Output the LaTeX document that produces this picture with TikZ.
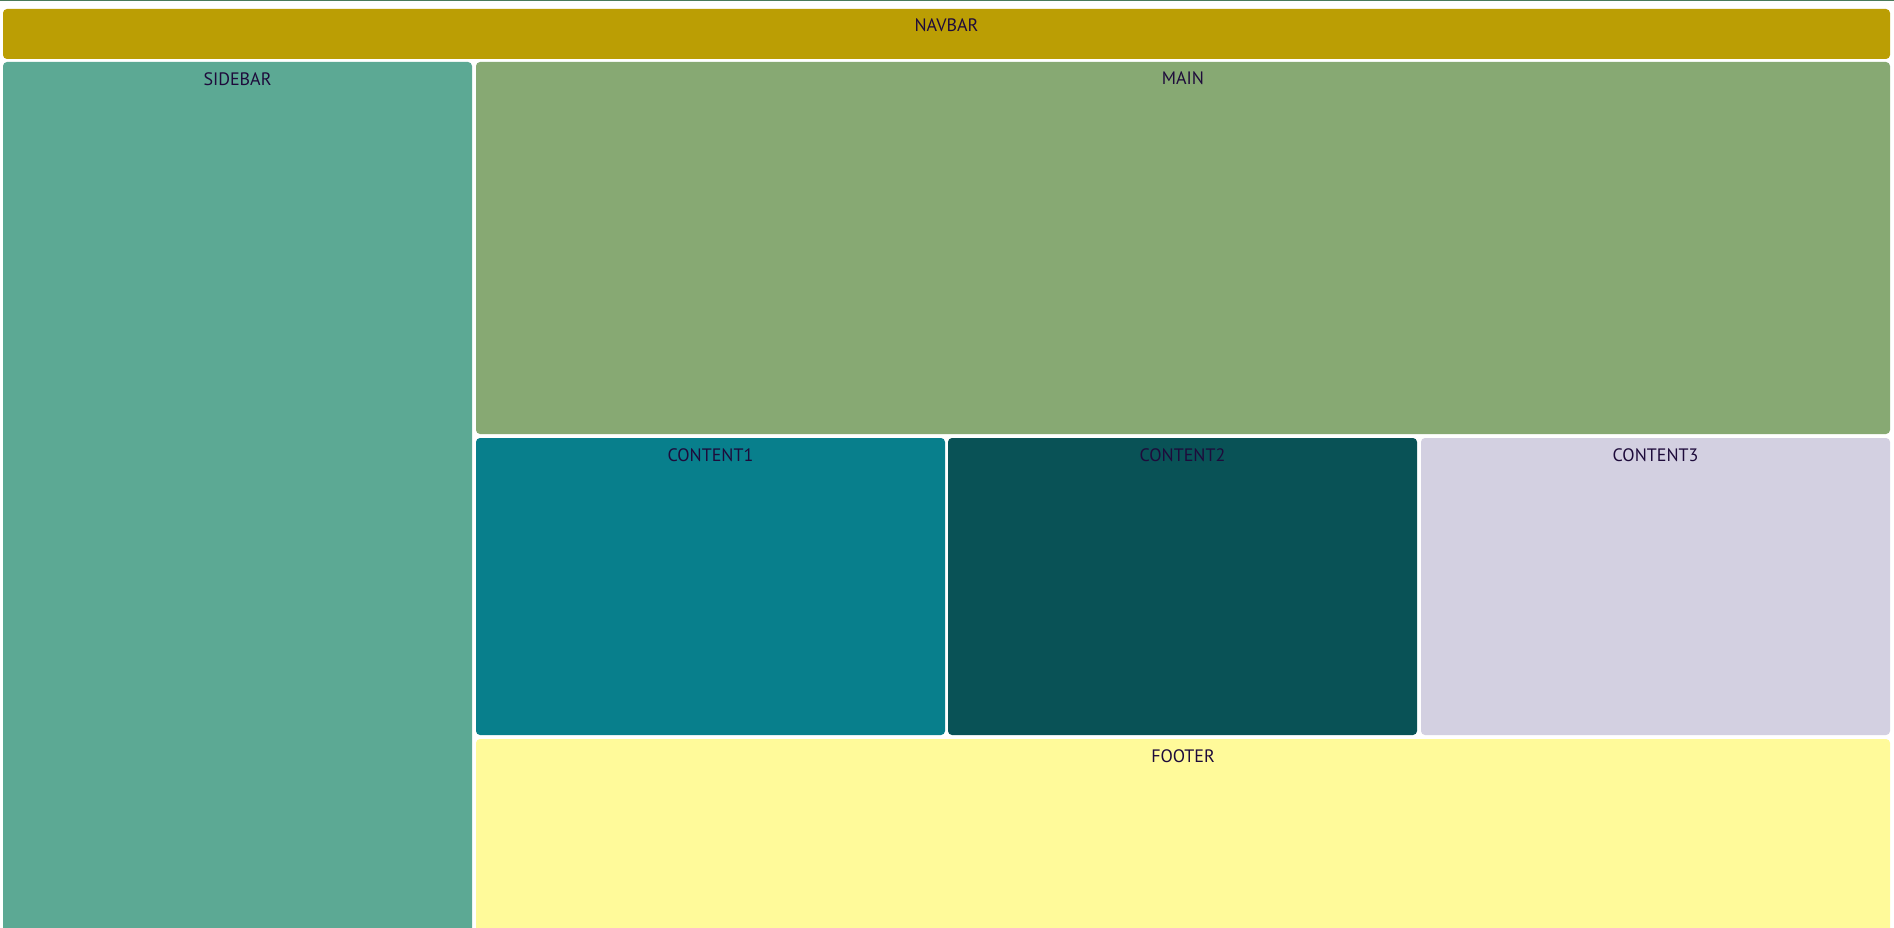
\documentclass[tikz,border=0pt]{standalone}
\usepackage{fontspec}
\setmainfont{PT Sans}
\definecolor{navc}{HTML}{BB9E04}
\definecolor{sidec}{HTML}{5CA994}
\definecolor{mainc}{HTML}{87A973}
\definecolor{conac}{HTML}{087F8C}
\definecolor{conbc}{HTML}{095256}
\definecolor{concc}{HTML}{D3D0E1}
\definecolor{footc}{HTML}{FFFA9A}
\definecolor{txtc}{HTML}{1E0B3B}
\definecolor{topline}{HTML}{4A7A5A}
\begin{document}
\begin{tikzpicture}[x=1pt,y=-1pt,
  boxs/.style={draw=none, rounded corners=4pt, anchor=north west, inner sep=0pt, outer sep=0pt},
  lbl/.style={anchor=north, inner sep=0pt, text=txtc, font=\fontsize{18}{20}\selectfont}]
\useasboundingbox (0,0) rectangle (1894,928);
\clip (0,0) rectangle (1894,928);
\fill[white] (0,0) rectangle (1894,928);
\fill[topline] (0,0) rectangle (1894,1.2);
\node[boxs, fill=navc, minimum width=1887pt, minimum height=50pt] (navbar) at (3,9) {};
\node[boxs, fill=sidec, minimum width=469pt, minimum height=880pt] (sidebar) at (3,62) {};
\node[boxs, fill=mainc, minimum width=1414pt, minimum height=372pt] (main) at (476,62) {};
\node[boxs, fill=conac, minimum width=469pt, minimum height=297pt] (content1) at (476,438) {};
\node[boxs, fill=conbc, minimum width=469pt, minimum height=297pt] (content2) at (948,438) {};
\node[boxs, fill=concc, minimum width=469pt, minimum height=297pt] (content3) at (1421,438) {};
\node[boxs, fill=footc, minimum width=1414pt, minimum height=203pt] (footer) at (476,739) {};
\node[lbl] (navbarlbl) at ([yshift=-9.5pt]navbar.north) {NAVBAR};
\node[lbl] (sidebarlbl) at ([yshift=-10pt]sidebar.north) {SIDEBAR};
\node[lbl] (mainlbl) at ([yshift=-10pt]main.north) {MAIN};
\node[lbl] (content1lbl) at ([yshift=-10pt]content1.north) {CONTENT1};
\node[lbl] (content2lbl) at ([yshift=-10pt]content2.north) {CONTENT2};
\node[lbl] (content3lbl) at ([yshift=-10pt]content3.north) {CONTENT3};
\node[lbl] (footerlbl) at ([yshift=-10pt]footer.north) {FOOTER};
\end{tikzpicture}
\end{document}
